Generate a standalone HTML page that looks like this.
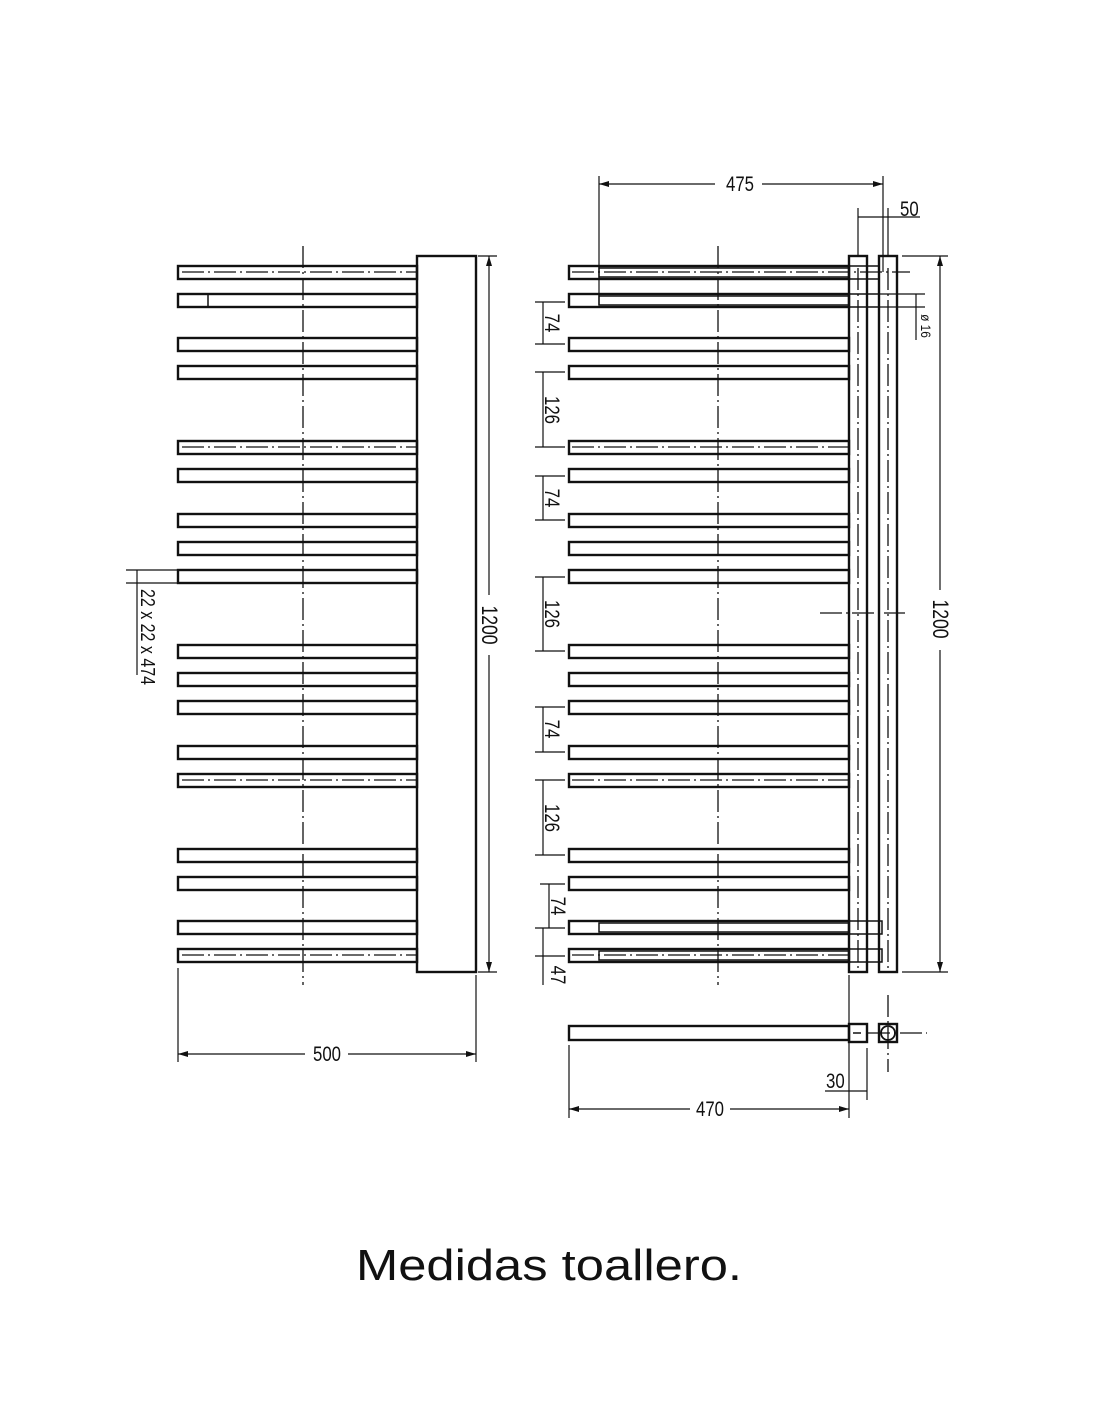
<!DOCTYPE html>
<html><head><meta charset="utf-8"><style>
html,body{margin:0;padding:0;background:#fff;}
svg{display:block}
text{font-family:"Liberation Sans",sans-serif;fill:#111}
</style></head><body>
<svg width="1100" height="1422" viewBox="0 0 1100 1422" xmlns="http://www.w3.org/2000/svg">
<defs>
<marker id="a" viewBox="0 0 10 6" refX="10" refY="3" markerWidth="10" markerHeight="6" orient="auto-start-reverse" markerUnits="userSpaceOnUse"><path d="M0,0 L10,3 L0,6 z" fill="#111"/></marker>
</defs>
<g fill="none" stroke="#111" stroke-width="2.4">
<rect x="178" y="266" width="239" height="13"/><rect x="178" y="294" width="239" height="13"/>
<rect x="178" y="338" width="239" height="13"/><rect x="178" y="366" width="239" height="13"/>
<rect x="178" y="441" width="239" height="13"/><rect x="178" y="469" width="239" height="13"/>
<rect x="178" y="514" width="239" height="13"/><rect x="178" y="542" width="239" height="13"/>
<rect x="178" y="570" width="239" height="13"/><rect x="178" y="645" width="239" height="13"/>
<rect x="178" y="673" width="239" height="13"/><rect x="178" y="701" width="239" height="13"/>
<rect x="178" y="746" width="239" height="13"/><rect x="178" y="774" width="239" height="13"/>
<rect x="178" y="849" width="239" height="13"/><rect x="178" y="877" width="239" height="13"/>
<rect x="178" y="921" width="239" height="13"/><rect x="178" y="949" width="239" height="13"/>
<rect x="417" y="256" width="59" height="716"/>
<line x1="208" y1="294" x2="208" y2="307" stroke-width="1.5"/>
<rect x="569" y="266" width="280" height="13"/><rect x="569" y="294" width="280" height="13"/>
<rect x="569" y="338" width="280" height="13"/><rect x="569" y="366" width="280" height="13"/>
<rect x="569" y="441" width="280" height="13"/><rect x="569" y="469" width="280" height="13"/>
<rect x="569" y="514" width="280" height="13"/><rect x="569" y="542" width="280" height="13"/>
<rect x="569" y="570" width="280" height="13"/><rect x="569" y="645" width="280" height="13"/>
<rect x="569" y="673" width="280" height="13"/><rect x="569" y="701" width="280" height="13"/>
<rect x="569" y="746" width="280" height="13"/><rect x="569" y="774" width="280" height="13"/>
<rect x="569" y="849" width="280" height="13"/><rect x="569" y="877" width="280" height="13"/>
<rect x="569" y="921" width="280" height="13"/><rect x="569" y="949" width="280" height="13"/>
<rect x="849" y="256" width="18" height="716"/>
<rect x="879" y="256" width="18" height="716"/>
<rect x="599" y="268" width="250" height="9" stroke-width="1.5"/>
<rect x="599" y="296" width="250" height="9" stroke-width="1.5"/>
<rect x="599" y="923" width="250" height="9" stroke-width="1.5"/>
<rect x="599" y="951" width="250" height="9" stroke-width="1.5"/>
<rect x="849" y="266" width="30" height="13" stroke-width="1.5"/>
<rect x="849" y="294" width="30" height="13" stroke-width="1.5"/>
<rect x="849" y="921" width="33" height="13" stroke-width="1.5"/>
<rect x="849" y="949" width="33" height="13" stroke-width="1.5"/>
<rect x="569" y="1026" width="280" height="14"/>
<rect x="849" y="1024" width="18" height="18"/>
<rect x="879" y="1024" width="18" height="18"/>
<circle cx="888" cy="1033" r="7" stroke-width="1.8"/>
<line x1="853" y1="1033" x2="861" y2="1033" stroke-width="1.5"/>
</g>
<g stroke="#111" stroke-width="1.3" fill="none" stroke-dasharray="22,4,2,4">
<line x1="303" y1="246" x2="303" y2="985"/>
<line x1="718" y1="246" x2="718" y2="985"/>
<line x1="858" y1="268" x2="858" y2="972"/>
<line x1="888" y1="268" x2="888" y2="972"/>
<line x1="182" y1="272" x2="416" y2="272"/><line x1="182" y1="447" x2="416" y2="447"/>
<line x1="182" y1="780" x2="416" y2="780"/><line x1="182" y1="955" x2="416" y2="955"/>
<line x1="572" y1="272" x2="910" y2="272"/><line x1="572" y1="447" x2="848" y2="447"/>
<line x1="572" y1="780" x2="848" y2="780"/><line x1="572" y1="955" x2="848" y2="955"/>
<line x1="820" y1="613" x2="905" y2="613"/>
<line x1="868" y1="1033" x2="927" y2="1033"/>
<line x1="888" y1="995" x2="888" y2="1072"/>
</g>
<g stroke="#fff" stroke-width="1.8" stroke-dasharray="8,13">
<line x1="602" y1="300" x2="846" y2="300"/>
<line x1="602" y1="927" x2="846" y2="927"/>
</g>
<g stroke="#111" stroke-width="1.2" fill="none">
<line x1="478" y1="256" x2="497" y2="256"/><line x1="478" y1="972" x2="497" y2="972"/>
<line x1="489" y1="256" x2="489" y2="595" marker-start="url(#a)"/><line x1="489" y1="655" x2="489" y2="972" marker-end="url(#a)"/>
<line x1="178" y1="968" x2="178" y2="1062"/><line x1="476" y1="975" x2="476" y2="1062"/>
<line x1="178" y1="1054" x2="305" y2="1054" marker-start="url(#a)"/><line x1="348" y1="1054" x2="476" y2="1054" marker-end="url(#a)"/>
<line x1="126" y1="570" x2="178" y2="570"/><line x1="126" y1="583" x2="178" y2="583"/>
<line x1="137" y1="570" x2="137" y2="675"/>
<line x1="599" y1="176" x2="599" y2="305"/><line x1="883" y1="176" x2="883" y2="272"/>
<line x1="599" y1="184" x2="715" y2="184" marker-start="url(#a)"/><line x1="762" y1="184" x2="883" y2="184" marker-end="url(#a)"/>
<line x1="858" y1="208" x2="858" y2="256"/><line x1="888" y1="208" x2="888" y2="256"/>
<line x1="858" y1="217" x2="920" y2="217"/>
<line x1="880" y1="294" x2="925" y2="294"/><line x1="880" y1="307" x2="925" y2="307"/>
<line x1="916" y1="294" x2="916" y2="340"/>
<line x1="902" y1="256" x2="948" y2="256"/><line x1="902" y1="972" x2="948" y2="972"/>
<line x1="940" y1="256" x2="940" y2="590" marker-start="url(#a)"/><line x1="940" y1="650" x2="940" y2="972" marker-end="url(#a)"/>
<line x1="535" y1="302" x2="565" y2="302"/><line x1="535" y1="344" x2="565" y2="344"/><line x1="543" y1="302" x2="543" y2="344"/>
<line x1="535" y1="372" x2="565" y2="372"/><line x1="535" y1="447" x2="565" y2="447"/><line x1="543" y1="372" x2="543" y2="447"/>
<line x1="535" y1="476" x2="565" y2="476"/><line x1="535" y1="520" x2="565" y2="520"/><line x1="543" y1="476" x2="543" y2="520"/>
<line x1="535" y1="577" x2="565" y2="577"/><line x1="535" y1="651" x2="565" y2="651"/><line x1="543" y1="577" x2="543" y2="651"/>
<line x1="535" y1="707" x2="565" y2="707"/><line x1="535" y1="752" x2="565" y2="752"/><line x1="543" y1="707" x2="543" y2="752"/>
<line x1="535" y1="780" x2="565" y2="780"/><line x1="535" y1="855" x2="565" y2="855"/><line x1="543" y1="780" x2="543" y2="855"/>
<line x1="540" y1="884" x2="565" y2="884"/><line x1="535" y1="928" x2="565" y2="928"/><line x1="549" y1="884" x2="549" y2="928"/>
<line x1="535" y1="956" x2="565" y2="956"/><line x1="543" y1="928" x2="543" y2="985"/>
<line x1="569" y1="1045" x2="569" y2="1118"/><line x1="849" y1="975" x2="849" y2="1118"/><line x1="867" y1="1048" x2="867" y2="1100"/>
<line x1="569" y1="1109" x2="690" y2="1109" marker-start="url(#a)"/><line x1="730" y1="1109" x2="849" y2="1109" marker-end="url(#a)"/>
<line x1="825" y1="1091" x2="867" y2="1091"/>
</g>
<g font-size="21">
<text transform="translate(740,191) scale(0.8,1)" text-anchor="middle">475</text>
<text transform="translate(900,216) scale(0.8,1)">50</text>
<text transform="translate(327,1061) scale(0.8,1)" text-anchor="middle">500</text>
<text transform="translate(710,1116) scale(0.8,1)" text-anchor="middle">470</text>
<text transform="translate(826,1088) scale(0.8,1)">30</text>
<text transform="translate(482,625) rotate(90) scale(0.8,1)" text-anchor="middle" font-size="22">1200</text>
<text transform="translate(933,619) rotate(90) scale(0.8,1)" text-anchor="middle" font-size="22">1200</text>
<text transform="translate(141,637) rotate(90) scale(0.8,1)" text-anchor="middle" font-size="20">22 x 22 x 474</text>
<text transform="translate(921,326) rotate(90) scale(0.85,1)" text-anchor="middle" font-size="14">ø 16</text>
<text transform="translate(545,323) rotate(90) scale(0.8,1)" text-anchor="middle">74</text>
<text transform="translate(545,410) rotate(90) scale(0.8,1)" text-anchor="middle">126</text>
<text transform="translate(545,498) rotate(90) scale(0.8,1)" text-anchor="middle">74</text>
<text transform="translate(545,614) rotate(90) scale(0.8,1)" text-anchor="middle">126</text>
<text transform="translate(545,729) rotate(90) scale(0.8,1)" text-anchor="middle">74</text>
<text transform="translate(545,818) rotate(90) scale(0.8,1)" text-anchor="middle">126</text>
<text transform="translate(551,906) rotate(90) scale(0.8,1)" text-anchor="middle">74</text>
<text transform="translate(551,975) rotate(90) scale(0.8,1)" text-anchor="middle">47</text>
</g>
<text x="549" y="1280" text-anchor="middle" font-size="44" textLength="386" lengthAdjust="spacingAndGlyphs" style="fill:#111">Medidas toallero.</text>
</svg>
</body></html>
